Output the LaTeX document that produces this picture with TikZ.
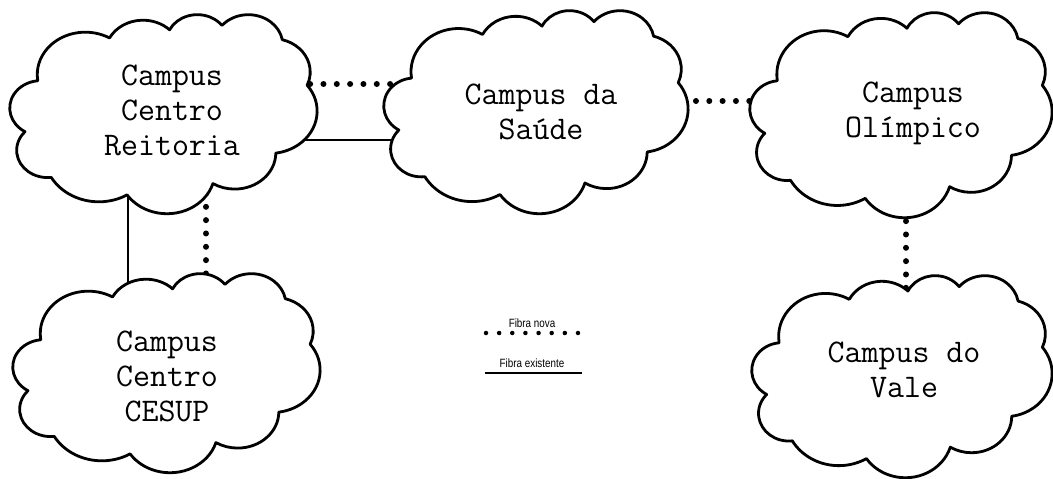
\documentclass[tikz,border=0pt]{standalone}
\usepackage{fontspec}
\newfontfamily\legendfont[FakeStretch=0.82]{Liberation Sans}
\pgfdeclarelayer{bg}
\pgfsetlayers{bg,main}
% one arc of the cloud outline (radii as fractions of the box, angles in degrees, y downwards)
\newcommand\addcloudarc[4]{%
  \pgfmathsetmacro\crx{#1*\cW}%
  \pgfmathsetmacro\cry{#2*\cH}%
  \pgfmathsetmacro\caa{#3}%
  \pgfmathsetmacro\csw{#4}%
  \pgfmathsetmacro\cab{\caa+\csw}%
  \pgfmathsetmacro\cta{atan2(#1*sin(\caa),#2*cos(\caa))}%
  \pgfmathsetmacro\ctb{atan2(#1*sin(\cab),#2*cos(\cab))}%
  \pgfmathsetmacro\cdd{mod(\ctb-\cta-\csw+540,360)-180}%
  \pgfmathsetmacro\cdt{0-(\csw+\cdd)}%
  \pgfmathsetmacro\cst{0-(\cta)}%
  \xdef\cloudarcs{\cloudarcs arc[start angle=\cst, delta angle=\cdt, x radius=\crx pt, y radius=\cry pt]}%
}
\newcommand\campuscloud[5]{% name, cx, cy, W, H
  \node[cloudframe, minimum width=#4pt, minimum height=#5pt] (#1) at (#2,#3) {};
  \def\cW{#4}\def\cH{#5}%
  \gdef\cloudarcs{}%
  \addcloudarc{0.156319}{0.212731}{-190.4875}{123.7805}%
  \addcloudarc{0.123449}{0.168218}{-144.1024}{89.9452}%
  \addcloudarc{0.101042}{0.137616}{-145.8079}{99.7230}%
  \addcloudarc{0.112431}{0.152662}{-130.9861}{117.2417}%
  \addcloudarc{0.123449}{0.168356}{-78.7089}{109.0269}%
  \addcloudarc{0.156829}{0.213426}{-46.2673}{130.2690}%
  \addcloudarc{0.133912}{0.182106}{0.6250}{114.0333}%
  \addcloudarc{0.156296}{0.213310}{22.4516}{115.1726}%
  \addcloudarc{0.178704}{0.244051}{66.2426}{75.7110}%
  \addcloudarc{0.100926}{0.136991}{-274.9421}{146.7356}%
  \addcloudarc{0.100579}{0.137616}{-246.8285}{152.5189}%
  \pgfmathsetmacro\csx{#2-#4/2+0.090278*#4}%
  \pgfmathsetmacro\csy{#3-#5/2+0.332639*#5}%
  \edef\cloudcmd{\noexpand\draw[cloudline] (\csx,\csy) \cloudarcs -- cycle;}%
  \cloudcmd
}
\begin{document}
\begin{tikzpicture}[x=1pt,y=-1pt,
  cloudframe/.style={rectangle, inner sep=0pt, outer sep=0pt},
  cloudline/.style={draw=black, line width=2.8pt, fill=white, line join=round},
  campuslabel/.style={font=\ttfamily\fontsize{33}{35}\selectfont, align=center, inner sep=0pt},
  newfiber/.style={line width=6pt, line cap=round, dash pattern=on 0pt off 13.33pt},
  oldfiber/.style={line width=1.4pt},
  legendtext/.style={font=\legendfont\fontsize{12}{14}\selectfont, inner sep=0pt}]
\useasboundingbox (0,0) rectangle (1053,479);

% clouds
\campuscloud{reit}{163.5}{113.5}{307}{199}
\campuscloud{saude}{536}{111.5}{304}{203}
\campuscloud{olimp}{901}{114.5}{302}{205}
\campuscloud{cesup}{166.5}{372.5}{307}{199}
\campuscloud{vale}{902}{376}{300}{202}

% labels
\node[campuslabel] (reitL)  at (172,110) {Campus\\Centro\\Reitoria};
\node[campuslabel] (saudeL) at (541,112) {Campus da\\Saúde};
\node[campuslabel] (olimpL) at (913,113) {Campus\\Olímpico};
\node[campuslabel] (cesupL) at (167,376) {Campus\\Centro\\CESUP};
\node[campuslabel] (valeL)  at (904,370) {Campus do\\Vale};

% connector levels
\coordinate (yA) at (0,84);
\coordinate (yB) at (0,140);
\coordinate (yC) at (0,101);
\coordinate (xA) at (206,0);
\coordinate (xB) at (128,0);
\coordinate (xC) at (906,0);

\begin{pgfonlayer}{bg}
\draw[newfiber] (reit.center |- yA) -- (saude.center |- yA);
\draw[oldfiber] (reit.center |- yB) -- (saude.center |- yB);
\draw[newfiber] (saude.center |- yC) -- (olimp.center |- yC);
\draw[newfiber] (xA |- reit.center) -- (xA |- cesup.center);
\draw[oldfiber] (xB |- reit.center) -- (xB |- cesup.center);
\draw[newfiber] (xC |- olimp.center) -- (xC |- vale.center);
\end{pgfonlayer}

% legend
\node[legendtext] (lnew) at (532,323) {Fibra nova};
\coordinate (ln1) at (486,333);
\coordinate (ln2) at (578.5,333);
\draw[newfiber, line width=4.5pt, dash pattern=on 0pt off 13.14pt] (ln1) -- (ln2);
\node[legendtext] (lold) at (532,363) {Fibra existente};
\coordinate (lo1) at (485,373);
\coordinate (lo2) at (582,373);
\draw[oldfiber] (lo1) -- (lo2);
\end{tikzpicture}
\end{document}
